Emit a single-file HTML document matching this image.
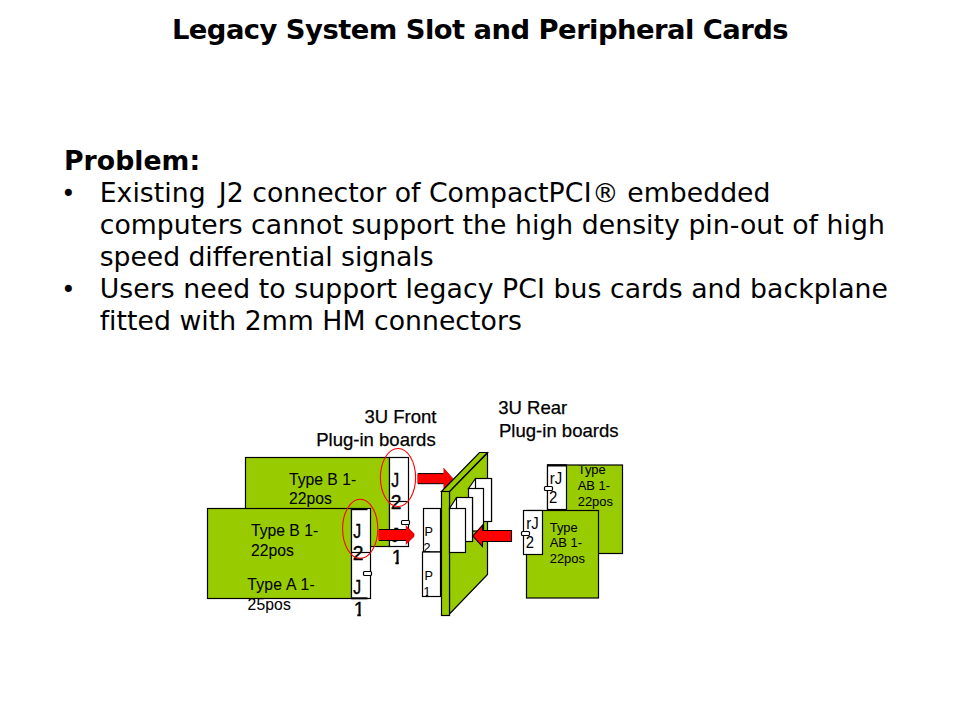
<!DOCTYPE html>
<html lang="en">
<head>
<meta charset="utf-8">
<title>Legacy System Slot and Peripheral Cards</title>
<style>
html,body{margin:0;padding:0;background:#fff;}
body{width:960px;height:720px;position:relative;overflow:hidden;color:#000;
  font-family:"DejaVu Sans","Liberation Sans",sans-serif;}
.ln{position:absolute;white-space:nowrap;line-height:32px;height:32px;font-size:26.7px;letter-spacing:0.03px;}
h1{position:absolute;left:0;top:13.5px;width:960px;margin:0;text-align:center;
  font-size:27.4px;line-height:32px;font-weight:bold;white-space:nowrap;letter-spacing:-0.54px;}
.b{font-weight:bold;}
.bul{position:absolute;font-size:24px;line-height:32px;height:32px;left:61.2px;margin-top:2px;}
svg{position:absolute;left:0;top:0;}
svg text{font-family:"Liberation Sans",sans-serif;fill:#000;stroke:#000;stroke-width:0.25px;}
.t16{font-size:15.7px;}
.t16 text{stroke-width:0.08px;}
.tj{font-size:19.3px;}
.tj text{stroke-width:0.38px;}
.tp{font-size:12.95px;}
.tq{font-size:12.6px;}
.tq text{stroke-width:0.1px;}
.tp text{stroke-width:0.06px;}
.tr{font-size:16.6px;}
.tr text{stroke-width:0;}
.tl{font-size:18.55px;}
</style>
</head>
<body>
<h1>Legacy System Slot and Peripheral Cards</h1>
<div class="ln b" style="left:64px;top:144.8px">Problem:</div>
<div class="bul" style="top:176px">•</div>
<div class="ln" style="left:99.7px;top:176.8px">Existing <span style="margin-left:4.6px">J</span>2 connector of CompactPC<span style="margin:0 0.4px">I</span>® embedded</div>
<div class="ln" style="left:99.7px;top:208.8px">computers cannot support the high density pin-out of high</div>
<div class="ln" style="left:99.7px;top:240.8px;letter-spacing:-0.06px">speed differential signals</div>
<div class="bul" style="top:272px">•</div>
<div class="ln" style="left:99.7px;top:272.8px;letter-spacing:0.06px">Users need to support legacy PCI bus cards and backplane</div>
<div class="ln" style="left:99.7px;top:304.8px">fitted with 2mm HM connectors</div>

<svg width="960" height="720" viewBox="0 0 960 720">
<defs>
  <clipPath id="c1"><rect x="567" y="465.8" width="55.5" height="87"/></clipPath>
  <clipPath id="k1"><rect x="386" y="545" width="20" height="16.6"/><rect x="395.4" y="561" width="3.4" height="4"/></clipPath>
  <clipPath id="k2"><rect x="348" y="597" width="20" height="16.6"/><rect x="357.4" y="613" width="3.4" height="4"/></clipPath>
  <clipPath id="k3"><rect x="420" y="582" width="14" height="13"/><rect x="425.8" y="594" width="2.4" height="4"/></clipPath>
</defs>
<!-- back front-side card -->
<g stroke="#000" stroke-width="1.2">
  <rect x="245.5" y="457.5" width="144" height="89" fill="#99cc00"/>
  <rect x="389.5" y="457.5" width="19" height="89" fill="#fff"/>
  <line x1="389.5" y1="501.5" x2="408.5" y2="501.5"/>
  <rect x="401.5" y="520.5" width="8" height="4" rx="1" fill="#fff"/>
</g>
<g class="t16">
  <text x="289" y="485">Type B 1-</text>
  <text x="289" y="504.3">22pos</text>
</g>
<g class="tj">
  <text transform="translate(391.2 486.8) scale(0.82 1)">J</text>
  <text x="390.8" y="508.8">2</text>
  <text transform="translate(391.2 541.9) scale(0.82 1)">J</text>
  <text x="391.8" y="564" clip-path="url(#k1)">1</text>
</g>
<ellipse cx="398" cy="477.5" rx="17.6" ry="29" fill="none" stroke="#f00" stroke-width="1.1"/>
<!-- front front-side card -->
<g stroke="#000" stroke-width="1.2">
  <rect x="207.5" y="508.5" width="144" height="90" fill="#99cc00"/>
  <rect x="351.5" y="508.5" width="19" height="90" fill="#fff"/>
  <line x1="351.5" y1="509.2" x2="367.5" y2="509.2" stroke-width="2"/>
  <line x1="351.5" y1="598.3" x2="367.5" y2="598.3" stroke-width="2"/>
  <line x1="351.5" y1="552.5" x2="370.5" y2="552.5"/>
  <rect x="363.5" y="571.5" width="8" height="4" rx="1" fill="#fff"/>
</g>
<g class="t16">
  <text x="251" y="535.5">Type B 1-</text>
  <text x="251" y="555.5">22pos</text>
  <text x="247.3" y="590" letter-spacing="0.25">Type A 1-</text>
  <text x="247.6" y="610" letter-spacing="0.1">25pos</text>
</g>
<g class="tj">
  <text transform="translate(353.2 537.8) scale(0.82 1)">J</text>
  <text x="352.8" y="559.8">2</text>
  <text transform="translate(353.2 594.0) scale(0.82 1)">J</text>
  <text x="353.8" y="616" clip-path="url(#k2)">1</text>
</g>
<ellipse cx="360.2" cy="528.8" rx="17.6" ry="29.5" fill="none" stroke="#f00" stroke-width="1.1"/>
<!-- arrow 2 -->
<polygon points="378.3,529.8 405.8,529.8 405.8,525.5 414,533.8 414,536.5 405.8,544.5 405.8,540.3 378.3,540.3" fill="#f00"/>
<path d="M405.8 525.5L414 533.8V536.5L405.8 544.5" stroke="#900" stroke-width="0.7" fill="none"/>
<path d="M379 529.5H406M379 540.5H406" stroke="#000" stroke-width="1.1" fill="none"/>
<!-- arrow 1 -->
<polygon points="417.3,473.6 443.5,473.6 443.5,468 453,478.7 443.5,489 443.5,483.8 417.3,483.8" fill="#f00"/>
<path d="M443.5 468L453 478.7L443.5 489" stroke="#900" stroke-width="0.7" fill="none"/>
<path d="M418 473.6H443.5M418 483.7H443.5" stroke="#000" stroke-width="1" fill="none"/>
<!-- P2 / P1 -->
<g stroke="#000" stroke-width="1.2" fill="#fff">
  <rect x="423.5" y="508.5" width="17" height="43.5"/>
  <rect x="422.5" y="552" width="18" height="44.5"/>
</g>
<g class="tq">
  <text x="424.5" y="536.3">P</text>
  <text x="423.5" y="551.8">2</text>
  <text x="424.5" y="580.3">P</text>
  <text x="423.5" y="596.2" clip-path="url(#k3)">1</text>
</g>
<!-- backplane -->
<g stroke="#000" stroke-width="1.2" fill="#99cc00" stroke-linejoin="miter">
  <polygon points="449.5,491.5 487.5,453 487.5,574.5 449.5,614"/>
  <polygon points="441.5,491.5 479.5,452.5 487.5,452.5 449.5,491.5"/>
  <rect x="441.5" y="491.5" width="8" height="124"/>
</g>
<g stroke="#000" stroke-width="1.2" fill="#fff">
  <polygon points="468.5,488.5 475.5,478.5 491.5,478.5 491.5,521.5 483.5,521.5 483.5,488.5"/>
  <rect x="475.5" y="478.5" width="16" height="43"/>
  <rect x="468.5" y="488.5" width="15" height="42.5"/>
  <polygon points="449.5,508.5 456.5,497.5 472.5,497.5 472.5,541.5 465.5,541.5 465.5,508.5"/>
  <rect x="456.5" y="497.5" width="16" height="44"/>
  <rect x="449.5" y="508.5" width="16" height="44"/>
</g>
<!-- arrow 3 -->
<polygon points="511.5,530.5 482.5,530.5 482.5,525.2 472.8,536 482.5,546.6 482.5,541.5 511.5,541.5" fill="#f00" stroke="#000" stroke-width="1.1"/>
<!-- rear cards -->
<g stroke="#000" stroke-width="1.2">
  <rect x="547.5" y="465" width="75" height="88.5" fill="#99cc00"/>
  <rect x="547.5" y="465" width="19" height="44.5" fill="#fff"/>
  <line x1="547.5" y1="465.5" x2="566.5" y2="465.5" stroke-width="2"/>
</g>
<g class="tp" clip-path="url(#c1)">
  <text x="577.7" y="474.3">Type</text>
  <text x="577.7" y="489.9">AB 1-</text>
  <text x="577.7" y="505.5">22pos</text>
</g>
<g class="tr">
  <text transform="translate(549.8 484) scale(0.9 1)">rJ</text>
  <text transform="translate(549 502.8) scale(0.9 1)">2</text>
</g>
<rect x="544.5" y="486.5" width="8" height="4" rx="1" fill="#fff" stroke="#000" stroke-width="1.2"/>
<g stroke="#000" stroke-width="1.2">
  <rect x="526.5" y="510.5" width="72" height="87.5" fill="#99cc00"/>
  <rect x="523.5" y="510.5" width="19" height="44" fill="#fff"/>
</g>
<g class="tp">
  <text x="549.7" y="531.8">Type</text>
  <text x="549.7" y="547.2">AB 1-</text>
  <text x="549.7" y="562.8">22pos</text>
</g>
<g class="tr">
  <text transform="translate(526.3 528.5) scale(0.9 1)">rJ</text>
  <text transform="translate(525.8 547.8) scale(0.9 1)">2</text>
</g>
<rect x="521.5" y="531.5" width="8" height="4" rx="1" fill="#fff" stroke="#000" stroke-width="1.2"/>
<g class="tl">
  <text x="436.5" y="422.5" text-anchor="end">3U Front</text>
  <text x="435.7" y="445.5" text-anchor="end">Plug-in boards</text>
  <text x="498.2" y="414.2">3U Rear</text>
  <text x="499" y="437.2">Plug-in boards</text>
</g>
</svg>
</body>
</html>
